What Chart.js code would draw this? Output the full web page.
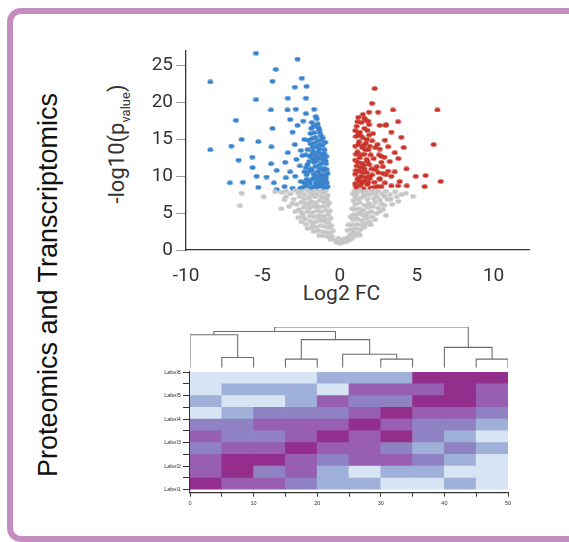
<!DOCTYPE html>
<html><head><meta charset="utf-8">
<script src="https://cdn.jsdelivr.net/npm/chart.js@4.4.1/dist/chart.umd.min.js"></script>
<style>
html,body{margin:0;padding:0;background:#fff;width:569px;height:542px;overflow:hidden;position:relative;}
#frame{position:absolute;left:7px;top:8px;width:640px;height:534px;box-sizing:border-box;border:6px solid #c48dc0;border-radius:14px;}
canvas{position:absolute;}
.rot{position:absolute;white-space:nowrap;line-height:1;transform:translate(-50%,-50%) rotate(-90deg);}
</style></head><body>
<div id="frame"></div>
<div class="rot" style="left:47.6px;top:285px;font-family:'Liberation Sans',Arial,sans-serif;font-size:27px;color:#111;">Proteomics and Transcriptomics</div>
<div class="rot" style="left:118.5px;top:143.5px;font-family:Roboto,sans-serif;font-size:22px;color:#333;">-log10(p<sub style="font-size:13px;">value</sub>)</div>
<div style="position:absolute;left:341.5px;top:283px;transform:translateX(-50%);font-family:Roboto,sans-serif;font-size:21px;line-height:1;color:#333;white-space:nowrap;">Log2 FC</div>
<canvas id="volcano" width="400" height="269" style="left:140px;top:36px;"></canvas>
<canvas id="dendro" width="390" height="52" style="left:140px;top:320px;"></canvas>
<canvas id="heat" width="390" height="160" style="left:140px;top:360px;"></canvas>
<script>
// ---------- Volcano plot data ----------
const volcanoXTicks = [-10, -5, 0, 5, 10];
const volcanoYTicks = [0, 5, 10, 15, 20, 25];

const downBlue = [
  [-5.45,26.7],[-2.75,25.9],[-4.16,24.5],[-8.42,22.8],[-4.38,22.9],[-2.47,23.3],[-2.92,22.1],[-2.16,22.2],
  [-5.45,20.4],[-3.38,20.6],[-2.2,20.6],[-4.48,19.0],[-3.4,19.0],[-2.86,19.1],[-1.67,19.1],[-2.2,18.5],
  [-6.75,17.6],[-3.23,17.7],[-2.38,17.5],[-4.38,16.5],[-3.07,16.0],[-2.75,16.9],[-6.38,15.0],[-5.3,14.7],
  [-7.05,14.1],[-8.42,13.6],[-4.45,14.0],[-2.3,15.0],[-2.92,14.3],[-3.38,13.2],[-6.58,12.2],[-5.69,12.6],
  [-5.67,11.2],[-4.47,11.7],[-3.55,11.9],[-4.1,10.8],[-5.41,10.0],[-4.76,9.9],[-7.14,9.1],[-6.3,9.2],
  [-5.3,8.5],[-4.28,9.1],[-4.1,8.2],[-3.5,9.8],[-3.59,8.6],[-3.07,8.4],[-2.9,10.0],[-3.23,10.6],
  [-2.53,9.3],[-2.57,8.4],[-2.6,11.4],[-2.82,12.3],[-2.43,12.8],[-2.53,13.5],
  [-1.56,18.1],[-1.82,17.3],[-1.45,17.1],[-1.86,16.5],[-1.34,16.3],[-1.67,15.9],[-1.23,15.5],[-1.82,15.1],
  [-1.45,14.8],[-1.13,14.2],[-1.77,13.9],[-1.34,13.7],[-2.1,13.6],[-1.02,13.1],[-1.56,12.9],[-1.95,12.7],
  [-1.23,12.4],[-0.93,12.1],[-1.67,11.9],[-2.1,11.6],[-1.34,11.5],[-1.02,11.1],[-1.82,10.8],[-1.45,10.6],
  [-0.8,10.4],[-2.16,10.2],[-1.13,10.1],[-1.67,9.8],[-1.34,9.6],[-0.93,9.4],[-2.0,9.3],[-1.56,9.0],
  [-1.13,8.9],[-0.8,8.6],[-1.82,8.5],[-1.39,8.4],[-1.02,8.3],[-2.2,8.7],
  [-1.5,17.8],[-1.7,16.8],[-1.3,15.9],[-1.6,15.3],[-1.9,14.4],[-1.2,14.9],[-1.5,14.0],[-1.0,13.6],
  [-1.4,13.3],[-1.8,13.0],[-1.1,12.8],[-1.5,12.2],[-2.0,12.0],[-0.9,11.7],[-1.2,11.8],[-1.6,11.3],
  [-1.9,11.0],[-1.1,10.8],[-0.85,10.9],[-1.3,10.3],[-1.7,10.3],[-2.3,10.6],[-1.0,9.9],[-1.5,9.3],
  [-1.8,9.6],[-0.85,9.1],[-1.2,9.2],[-2.3,9.1],[-1.6,8.6],[-1.15,8.5],[-0.9,8.4],[-1.95,8.4],
  [-2.4,8.5],[-1.35,8.7],[-1.75,12.4],[-1.45,12.6],[-2.2,11.2],[-1.05,12.3],[-0.95,10.2],[-1.25,9.9],
  [-1.9,15.8],[-1.4,16.6],[-1.1,15.2],[-1.65,14.5],[-2.05,14.9],[-0.95,14.6],[-1.3,14.3],[-1.75,13.4],
  [-2.2,12.9],[-1.2,13.0],[-0.88,12.7],[-1.6,12.1],[-1.3,11.0],[-2.05,10.6],[-1.55,10.0],[-0.9,9.8],
  [-1.95,9.0],[-1.05,9.5],[-1.45,8.8],[-2.15,9.6]
];

const upRed = [
  [2.27,21.9],[2.1,19.9],[3.46,19.0],[6.34,19.0],[1.9,18.7],[2.49,18.7],[3.79,17.4],[2.6,16.9],
  [2.99,16.9],[1.84,17.5],[3.35,16.0],[4.0,15.3],[6.1,14.3],[4.16,13.9],[3.57,13.2],[2.93,14.9],
  [3.14,14.0],[2.71,12.7],[3.25,12.0],[4.33,11.0],[3.57,10.6],[4.94,10.0],[5.58,10.1],[6.56,9.3],
  [5.52,8.6],[4.36,8.7],[3.79,8.7],[3.35,8.7],[2.93,9.1],[3.9,9.3],[3.35,10.0],[3.14,10.7],
  [3.0,17.0],[2.6,13.7],[2.9,12.6],[3.8,12.4],[2.8,11.3],[3.0,10.2],[2.6,9.6],
  [1.2,18.0],[1.4,17.3],[1.1,16.8],[1.6,16.5],[1.3,16.0],[1.8,16.2],[1.05,15.4],[1.5,15.2],
  [1.9,15.6],[1.25,14.7],[1.7,14.5],[2.1,14.8],[1.0,14.1],[1.45,13.9],[1.85,13.6],[2.3,13.9],
  [1.15,13.3],[1.6,13.0],[2.0,12.9],[1.3,12.5],[1.0,12.2],[1.75,12.3],[2.2,12.4],[1.45,11.8],
  [1.1,11.4],[1.9,11.6],[1.6,11.0],[2.4,11.3],[1.25,10.7],[1.0,10.3],[1.75,10.5],[2.1,10.2],
  [1.4,10.0],[2.5,10.5],[1.15,9.6],[1.6,9.4],[1.95,9.7],[1.0,9.0],[1.35,8.8],[1.8,8.9],
  [2.25,9.2],[1.1,8.4],[1.55,8.3],[2.0,8.4],[2.45,8.6],[1.3,9.3],[2.6,9.7],[1.7,17.6],
  [1.5,18.4],[1.9,17.0],[2.15,15.8],[2.45,14.3],[2.55,12.9],[2.7,11.9],[2.3,10.9],[2.8,10.4],
  [2.7,8.6],[1.2,15.8],[1.65,13.6],[1.35,11.2],[2.05,11.0],[1.85,9.2],
  [1.15,17.4],[1.6,17.9],[1.35,15.5],[1.0,16.2],[1.75,15.0],[1.2,14.3],[1.55,14.2],[1.95,14.1],
  [1.05,13.0],[1.35,12.9],[1.8,12.0],[1.2,11.9],[1.55,11.5],[1.05,10.8],[1.5,10.5],[1.95,10.0],
  [1.25,9.8],[1.7,9.9],[1.05,8.7],[1.45,9.1],[2.2,8.5]
];

const notSig = [
  [-6.38,7.7],[-6.49,6.0],[-4.95,7.2],[-3.8,7.8],[-3.5,8.0],[-3.2,7.6],[-2.9,8.1],[-2.7,7.7],
  [-2.5,8.0],[-2.3,7.5],[-2.1,8.1],[-1.9,7.7],[-1.7,8.0],[-1.5,7.6],[-1.3,8.1],[-1.1,7.8],
  [-0.9,8.0],[-0.8,7.4],[-1.2,7.3],[-1.6,7.2],[-2.0,7.1],[-2.6,7.2],[-3.0,6.9],
  [0.95,8.0],[1.1,7.6],[1.3,8.1],[1.5,7.8],[1.7,8.0],[1.9,7.5],[2.1,8.1],[2.3,7.7],
  [2.5,8.0],[2.75,7.6],[3.0,8.0],[3.27,7.5],[3.6,7.9],[4.0,7.5],[4.76,7.3],[3.8,6.6],
  [1.0,7.2],[1.4,7.1],[1.8,6.9],[2.2,7.0],[2.6,6.8],[3.1,6.9],[3.4,6.2],
  [-3.8,5.6],[-2.8,6.2],[-2.5,6.5],[-2.2,6.3],[-1.9,6.6],[-1.6,6.4],[-1.3,6.7],[-1.0,6.5],
  [-0.85,6.9],[-0.8,6.0],[-1.1,5.9],[-1.4,5.8],[-1.7,5.9],[-2.0,5.7],[-2.35,5.8],[-2.65,5.5],
  [-2.7,4.4],[-2.4,4.9],[-2.1,5.2],[-1.8,5.1],[-1.5,5.3],[-1.2,5.2],[-0.9,5.4],[-0.75,4.8],
  [-1.05,4.6],[-1.35,4.7],[-1.65,4.5],[-1.95,4.6],[-2.25,4.2],[-2.5,3.8],[-2.2,3.5],[-1.9,3.9],
  [-1.6,3.8],[-1.3,4.0],[-1.0,3.9],[-0.75,3.7],[-0.7,3.0],[-0.95,3.2],[-1.25,3.3],[-1.55,3.1],
  [-1.85,3.0],[-2.1,2.9],[-1.7,2.5],[-1.4,2.6],[-1.1,2.5],[-0.85,2.4],[-0.6,2.3],[-0.5,1.8],
  [-0.8,1.8],[-1.1,1.9],[-1.35,2.0],[-0.6,1.4],[-0.3,1.3],[-0.2,1.0],[0.0,0.9],[0.2,1.0],
  [0.4,1.1],[0.6,1.3],[0.1,1.3],[-0.1,1.6],[0.3,1.5],[0.55,1.7],[0.8,1.6],[1.0,1.9],
  [0.7,2.1],[0.9,2.4],[1.2,2.3],[0.75,2.8],[1.05,2.9],[1.35,2.8],[1.6,3.1],[0.8,3.4],
  [1.1,3.5],[1.4,3.4],[1.7,3.6],[1.95,3.8],[0.85,4.1],[1.15,4.2],[1.45,4.0],[1.75,4.3],
  [2.1,4.5],[0.9,4.8],[1.2,4.9],[1.5,4.7],[1.8,5.0],[2.05,5.2],[2.4,5.0],[2.8,5.5],
  [3.0,4.7],[0.95,5.5],[1.25,5.6],[1.55,5.4],[1.85,5.8],[2.15,5.9],[2.5,5.7],[2.9,6.1],
  [1.0,6.2],[1.3,6.4],[1.6,6.1],[1.9,6.3],[2.3,6.5],[2.7,6.3],
  [-3.5,7.2],[-3.1,6.3],[-2.9,5.2],[-2.3,6.9],[-1.75,7.4],[-1.05,7.1],[-0.7,6.4],[-0.65,5.3],
  [-0.6,4.3],[-0.55,3.3],[-0.45,2.6],[0.5,2.7],[0.55,3.4],[0.7,4.5],[0.8,5.6],[0.9,6.7],
  [0.85,7.6],[1.2,6.9],[1.6,7.4],[2.0,7.6],[2.4,7.3],[2.9,7.3],[3.3,6.9],[3.7,7.2],
  [4.3,7.7],[2.6,5.2],[2.3,4.1],[2.0,3.4],[1.3,2.0],[1.7,4.6],[1.35,5.1],[1.05,4.5],
  [-1.5,6.1],[-2.0,6.2],[-2.5,5.1],[-1.35,4.3],[-1.75,3.4],[-2.4,4.5],[-0.95,4.2],[-3.3,5.9],
  [-3.6,6.8],[-4.2,7.9]
];

// ---------- Heatmap data ----------
const heatmapColumns = [2.5, 7.5, 12.5, 17.5, 22.5, 27.5, 32.5, 37.5, 42.5, 47.5];
const heatmapXTicks = [0, 5, 10, 15, 20, 25, 30, 35, 40, 45, 50];
const heatmapYTicks = [0, 1, 2, 3, 4, 5, 6, 7, 8, 9, 10];
const heatmapRowLabels = ['Label1', 'Label2', 'Label3', 'Label4', 'Label5', 'Label6'];
// rows listed top to bottom, level 0 (light blue) .. 4 (magenta)
const heatmapValues = [
  [0,0,0,0,1,1,1,4,4,4],
  [0,1,1,1,0,3,3,3,4,3],
  [1,0,0,1,3,2,2,4,4,3],
  [0,1,2,2,2,3,4,3,3,2],
  [2,2,3,3,3,4,3,2,2,1],
  [3,2,2,3,4,3,4,2,1,0],
  [2,3,3,4,3,3,2,1,2,1],
  [3,4,4,3,2,3,3,2,1,0],
  [3,4,2,3,1,0,1,1,0,0],
  [4,3,3,2,1,1,0,0,1,0]
];
const heatmapPalette = ['#d6e4f3', '#a0b1d9', '#8f82c2', '#985eb1', '#942e8d'];

// ---------- Dendrogram data ----------
const dendroLeafX = [0, 5, 10, 15, 20, 24, 30, 35, 40, 45, 50];
const dendroMerges = [
  [1,2,2.5],[3,4,2.1],[6,7,2.1],[9,10,2.1],[5,13,3.3],
  [0,11,8.1],[12,15,6.9],[8,14,5.0],[16,17,8.9],[19,18,10]
];

Chart.defaults.animation = false;
Chart.defaults.events = [];
Chart.defaults.plugins.legend.display = false;
Chart.defaults.plugins.tooltip.enabled = false;

function dot(color) {
  const c = document.createElement('canvas');
  c.width = 7; c.height = 5;
  const g = c.getContext('2d');
  g.fillStyle = color;
  g.beginPath();
  g.ellipse(3.5, 2.5, 2.9, 2.2, 0, 0, Math.PI * 2);
  g.fill();
  return c;
}
const toXY = arr => arr.map(p => ({x: p[0], y: p[1]}));

new Chart(document.getElementById('volcano'), {
  type: 'scatter',
  data: {datasets: [
    {data: toXY(notSig), pointStyle: dot('#c6c6c6'), pointRadius: 3},
    {data: toXY(downBlue), pointStyle: dot('#3983cb'), pointRadius: 3},
    {data: toXY(upRed), pointStyle: dot('#c9352a'), pointRadius: 3}
  ]},
  options: {
    responsive: false,
    layout: {padding: {left: 0, right: 11, top: 10.7, bottom: 0}},
    scales: {
      x: {
        type: 'linear', min: -10, max: 12.3,
        afterBuildTicks: s => { s.ticks = volcanoXTicks.map(v => ({value: v})); },
        afterFit: s => { s.height = 55; },
        grid: {display: false},
        border: {display: true, color: '#333', width: 1.3},
        ticks: {padding: 7, color: '#333', autoSkip: false, maxRotation: 0,
          font: {family: 'Roboto', size: 19}, callback: v => String(v)}
      },
      y: {
        type: 'linear', min: 0, max: 27.08,
        afterBuildTicks: s => { s.ticks = volcanoYTicks.map(v => ({value: v})); },
        afterFit: s => { s.width = 46; },
        grid: {display: true, drawOnChartArea: false, drawTicks: true, tickLength: 10, color: '#9a9a9a'},
        border: {display: true, color: '#333', width: 1.3},
        ticks: {padding: 3, color: '#333', autoSkip: false,
          font: {family: 'Roboto', size: 19}, callback: v => String(v)}
      }
    }
  }
});

// dendrogram segments built from merges
const nodeX = dendroLeafX.slice();
const nodeH = dendroLeafX.map(() => 0);
const dendroSets = [];
dendroMerges.forEach(m => {
  const [a, b, h] = m;
  dendroSets.push({
    data: [{x: nodeX[a], y: nodeH[a]}, {x: nodeX[a], y: h}, {x: nodeX[b], y: h}, {x: nodeX[b], y: nodeH[b]}],
    borderColor: '#6e6e6e', borderWidth: 1.1, pointRadius: 0, tension: 0, fill: false
  });
  nodeX.push((nodeX[a] + nodeX[b]) / 2);
  nodeH.push(h);
});

new Chart(document.getElementById('dendro'), {
  type: 'line',
  data: {datasets: dendroSets},
  options: {
    responsive: false,
    layout: {padding: {left: 50, right: 22, top: 7, bottom: 4.3}},
    scales: {
      x: {type: 'linear', min: 0, max: 50, display: false},
      y: {type: 'linear', min: 0, max: 10, display: false}
    }
  }
});

const cells = [], cellColors = [];
heatmapValues.forEach((row, r) => {
  row.forEach((val, c) => {
    cells.push({x: heatmapColumns[c], y: [9 - r, 10 - r]});
    cellColors.push(heatmapPalette[val]);
  });
});

new Chart(document.getElementById('heat'), {
  type: 'bar',
  data: {datasets: [{
    data: cells, backgroundColor: cellColors, borderWidth: 0,
    grouped: false, barPercentage: 1, categoryPercentage: 1
  }]},
  options: {
    responsive: false,
    layout: {padding: {left: 0, right: 22, top: 12, bottom: 0}},
    scales: {
      x: {
        type: 'linear', min: 0, max: 50, offset: false, z: 1,
        afterBuildTicks: s => { s.ticks = heatmapXTicks.map(v => ({value: v})); },
        afterFit: s => { s.height = 27.3; },
        grid: {display: true, offset: false, drawOnChartArea: false, drawTicks: true, tickLength: 4, color: '#333'},
        border: {display: true, color: '#333', width: 1.2},
        ticks: {padding: 3.3, color: '#333', autoSkip: false, maxRotation: 0,
          font: {family: 'Liberation Sans', size: 5.5},
          callback: v => (v % 10 === 0 ? String(v) : '')}
      },
      y: {
        type: 'linear', min: -0.25, max: 10, z: 1,
        afterBuildTicks: s => { s.ticks = heatmapYTicks.map(v => ({value: v})); },
        afterFit: s => { s.width = 50; },
        grid: {display: true, drawOnChartArea: false, drawTicks: true, tickLength: 7, color: '#333'},
        border: {display: true, color: '#333', width: 1.2},
        ticks: {padding: 2.3, color: '#333', autoSkip: false,
          font: {family: 'Liberation Sans', size: 5.5},
          callback: v => (v % 2 === 0 ? heatmapRowLabels[v / 2] : '')}
      }
    }
  }
});
</script>
</body></html>
